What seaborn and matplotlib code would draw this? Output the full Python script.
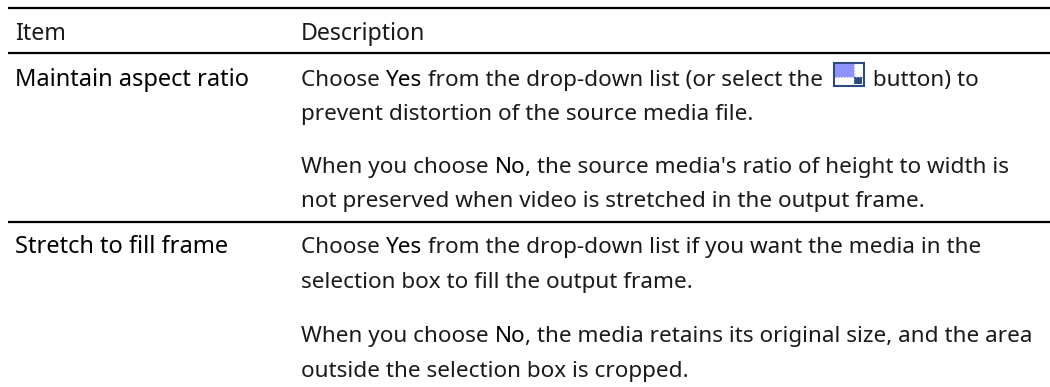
import matplotlib
matplotlib.use('Agg')
import matplotlib.pyplot as plt
from matplotlib.patches import Rectangle
import seaborn as sns

# table content, each line is a list of (text, emphasised) runs
HEADERS = ['Item', 'Description']
ITEMS = ['Maintain aspect ratio', 'Stretch to fill frame']
DESC_LINES = [
    [('Choose ', False), ('Yes', True), (' from the drop-down list (or select the ', False), ('ICON', False), (' button) to', False)],
    [('prevent distortion of the source media file.', False)],
    [('When you choose ', False), ('No', True), (", the source media's ratio of height to width is", False)],
    [('not preserved when video is stretched in the output frame.', False)],
    [('Choose ', False), ('Yes', True), (' from the drop-down list if you want the media in the', False)],
    [('selection box to fill the output frame.', False)],
    [('When you choose ', False), ('No', True), (', the media retains its original size, and the area', False)],
    [('outside the selection box is cropped.', False)],
]

# layout in pixels
HEADER_BASE = 40
ITEM_BASES = [86, 253]
DESC_BASES = [86, 120, 173, 207, 253, 288, 342, 377]
RULES = [8, 53, 222]
ITEM_X = 15
DESC_X = 301
FS = 16.2
ITEM_FS = 17
HEADER_FS = 16.7
INK = '#1a1a1a'

sns.set_theme(style='white')
plt.rcParams['font.family'] = ['Noto Sans', 'DejaVu Sans']

fig, ax = plt.subplots(figsize=(10.5, 3.87), dpi=100)
fig.subplots_adjust(0, 0, 1, 1)
ax.set_xlim(0, 1050)
ax.set_ylim(387, 0)
ax.axis('off')

for y in RULES:
    ax.plot([8, 1050], [y, y], color='black', lw=1.6, solid_capstyle='butt')


def draw_icon(x, base):
    top = base - 23
    ax.add_patch(Rectangle((x, top), 30, 23, fc='white', ec='#2c4a7c', lw=1.5))
    ax.add_patch(Rectangle((x + 1, top + 1), 19, 13, fc='#8f92fb', ec='none'))
    ax.plot([x + 20, x + 20], [top + 1, top + 22], color='#8f92fb', lw=0.8, ls=':')
    ax.plot([x + 1, x + 29], [top + 14, top + 14], color='#8f92fb', lw=0.8, ls=':')
    ax.add_patch(Rectangle((x + 20, top + 14), 8, 7, fc='#2c4a7c', ec='none'))


def draw_line(runs, x, base):
    renderer = fig.canvas.get_renderer()
    for text, strong in runs:
        if text == 'ICON':
            draw_icon(x + 5, base)
            x += 38
            continue
        t = ax.text(x, base, text.replace(' ', '\u00a0'), fontsize=FS, va='baseline', ha='left',
                    color='black' if strong else INK, fontweight='medium' if strong else 'normal')
        x = t.get_window_extent(renderer).x1


for label, x in zip(HEADERS, [ITEM_X, DESC_X]):
    ax.text(x, HEADER_BASE, label, fontsize=HEADER_FS, va='baseline', color=INK)
for label, base in zip(ITEMS, ITEM_BASES):
    ax.text(ITEM_X, base, label, fontsize=ITEM_FS, va='baseline', color='black', fontweight='medium')
for runs, base in zip(DESC_LINES, DESC_BASES):
    draw_line(runs, DESC_X, base)

fig.savefig('out.png', dpi=100)
